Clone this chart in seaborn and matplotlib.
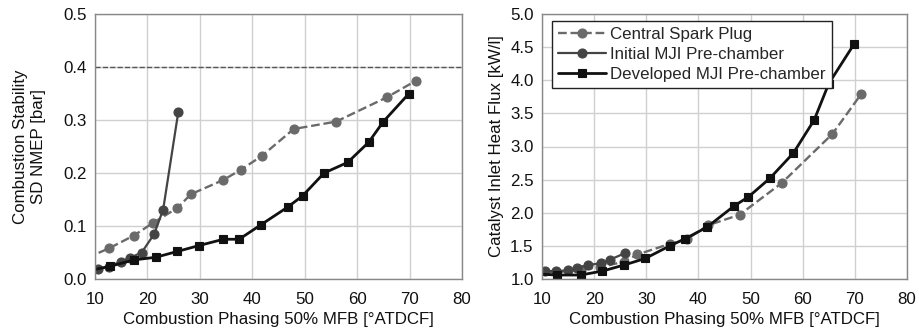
import numpy as np
import pandas as pd
import matplotlib.pyplot as plt
import seaborn as sns
from matplotlib.ticker import MultipleLocator

# Dados
csp_x = [8.5, 12.7, 17.4, 21.1, 25.7, 28.3, 34.5, 37.8, 41.8, 47.9, 56.0, 65.7, 71.2]
csp_sd = [0.040, 0.058, 0.082, 0.106, 0.134, 0.160, 0.187, 0.206, 0.232, 0.283, 0.297, 0.343, 0.374]
csp_flux = [1.11, 1.10, 1.14, 1.18, 1.26, 1.37, 1.53, 1.60, 1.81, 1.97, 2.45, 3.19, 3.79]

mji_x = [10.6, 12.7, 14.9, 16.7, 18.9, 21.3, 23.0, 25.9]
mji_sd = [0.019, 0.023, 0.033, 0.040, 0.050, 0.085, 0.131, 0.316]
mji_flux = [1.12, 1.12, 1.13, 1.17, 1.21, 1.24, 1.29, 1.39]

dev_x = [8.0, 12.9, 17.4, 21.6, 25.7, 29.8, 34.5, 37.5, 41.6, 46.8, 49.6, 53.7, 58.2, 62.2, 65.0, 69.8]
dev_sd = [0.014, 0.024, 0.036, 0.041, 0.052, 0.063, 0.075, 0.075, 0.102, 0.136, 0.157, 0.200, 0.220, 0.258, 0.297, 0.349]
dev_flux = [1.08, 1.06, 1.06, 1.12, 1.21, 1.31, 1.50, 1.61, 1.78, 2.10, 2.24, 2.52, 2.90, 3.40, 3.95, 4.54]

series = [
    ('Central Spark Plug', csp_x, csp_sd, csp_flux, '#6a6a6a', '--', 'o', 6.5, 1.7),
    ('Initial MJI Pre-chamber', mji_x, mji_sd, mji_flux, '#444444', '-', 'o', 6.5, 1.6),
    ('Developed MJI Pre-chamber', dev_x, dev_sd, dev_flux, '#111111', '-', 's', 6.0, 2.0),
]

sns.set_style('white')
plt.rcParams['font.family'] = ['Liberation Sans', 'DejaVu Sans']

fs = 12.2
fig = plt.figure(figsize=(9.2, 3.34), dpi=100)
ax1 = fig.add_axes([95 / 920, 55 / 334, 367 / 920, 265 / 334])
ax2 = fig.add_axes([542 / 920, 55 / 334, 365 / 920, 265 / 334])

for nome, x, sd, flux, cor, ls, mk, ms, lw in series:
    df = pd.DataFrame({'x': x, 'sd': sd, 'flux': flux})
    sns.lineplot(data=df, x='x', y='sd', ax=ax1, sort=False, color=cor, linestyle=ls,
                 marker=mk, markersize=ms, linewidth=lw, markeredgecolor=cor, markeredgewidth=0.8)
    sns.lineplot(data=df, x='x', y='flux', ax=ax2, sort=False, color=cor, linestyle=ls,
                 marker=mk, markersize=ms, linewidth=lw, markeredgecolor=cor, markeredgewidth=0.8,
                 label=nome)

ax1.axhline(0.4, color='#555555', linestyle='--', linewidth=1.0)

for ax in (ax1, ax2):
    ax.set_xlim(10, 80)
    ax.xaxis.set_major_locator(MultipleLocator(10))
    ax.xaxis.set_minor_locator(MultipleLocator(5))
    ax.grid(True, which='major', color='#d0d0d0', linewidth=1.0)
    ax.tick_params(axis='both', which='major', direction='out', length=4, width=0.8,
                   color='#888888', labelsize=fs, labelcolor='#111111', pad=2)
    ax.tick_params(axis='x', which='major', pad=5)
    ax.tick_params(axis='both', which='minor', direction='out', length=3, width=0.8, color='#888888')
    for s in ax.spines.values():
        s.set_color('#888888')
        s.set_linewidth(1.0)
    ax.set_xlabel('Combustion Phasing 50% MFB [°ATDCF]', fontsize=fs, color='#111111', labelpad=4)

ax1.set_ylim(0, 0.5)
ax1.yaxis.set_major_locator(MultipleLocator(0.1))
ax1.yaxis.set_minor_locator(MultipleLocator(0.05))
ax1.set_ylabel('Combustion Stability\nSD NMEP [bar]', fontsize=fs, color='#111111', labelpad=12,
               linespacing=1.25)

ax2.set_ylim(1.0, 5.0)
ax2.yaxis.set_major_locator(MultipleLocator(0.5))
ax2.yaxis.set_minor_locator(MultipleLocator(0.25))
ax2.set_ylabel('Catalyst Inlet Heat Flux [kW/l]', fontsize=fs, color='#111111', labelpad=4)

leg = ax2.legend(loc='upper left', bbox_to_anchor=(0.027, 0.974), fontsize=12.2, frameon=True,
                 fancybox=False, edgecolor='#222222', framealpha=1, handlelength=2.85,
                 handletextpad=0.25, borderpad=0.35, labelspacing=0.3, borderaxespad=0)
leg.get_frame().set_linewidth(1.0)

plt.savefig('out.png', dpi=100)
